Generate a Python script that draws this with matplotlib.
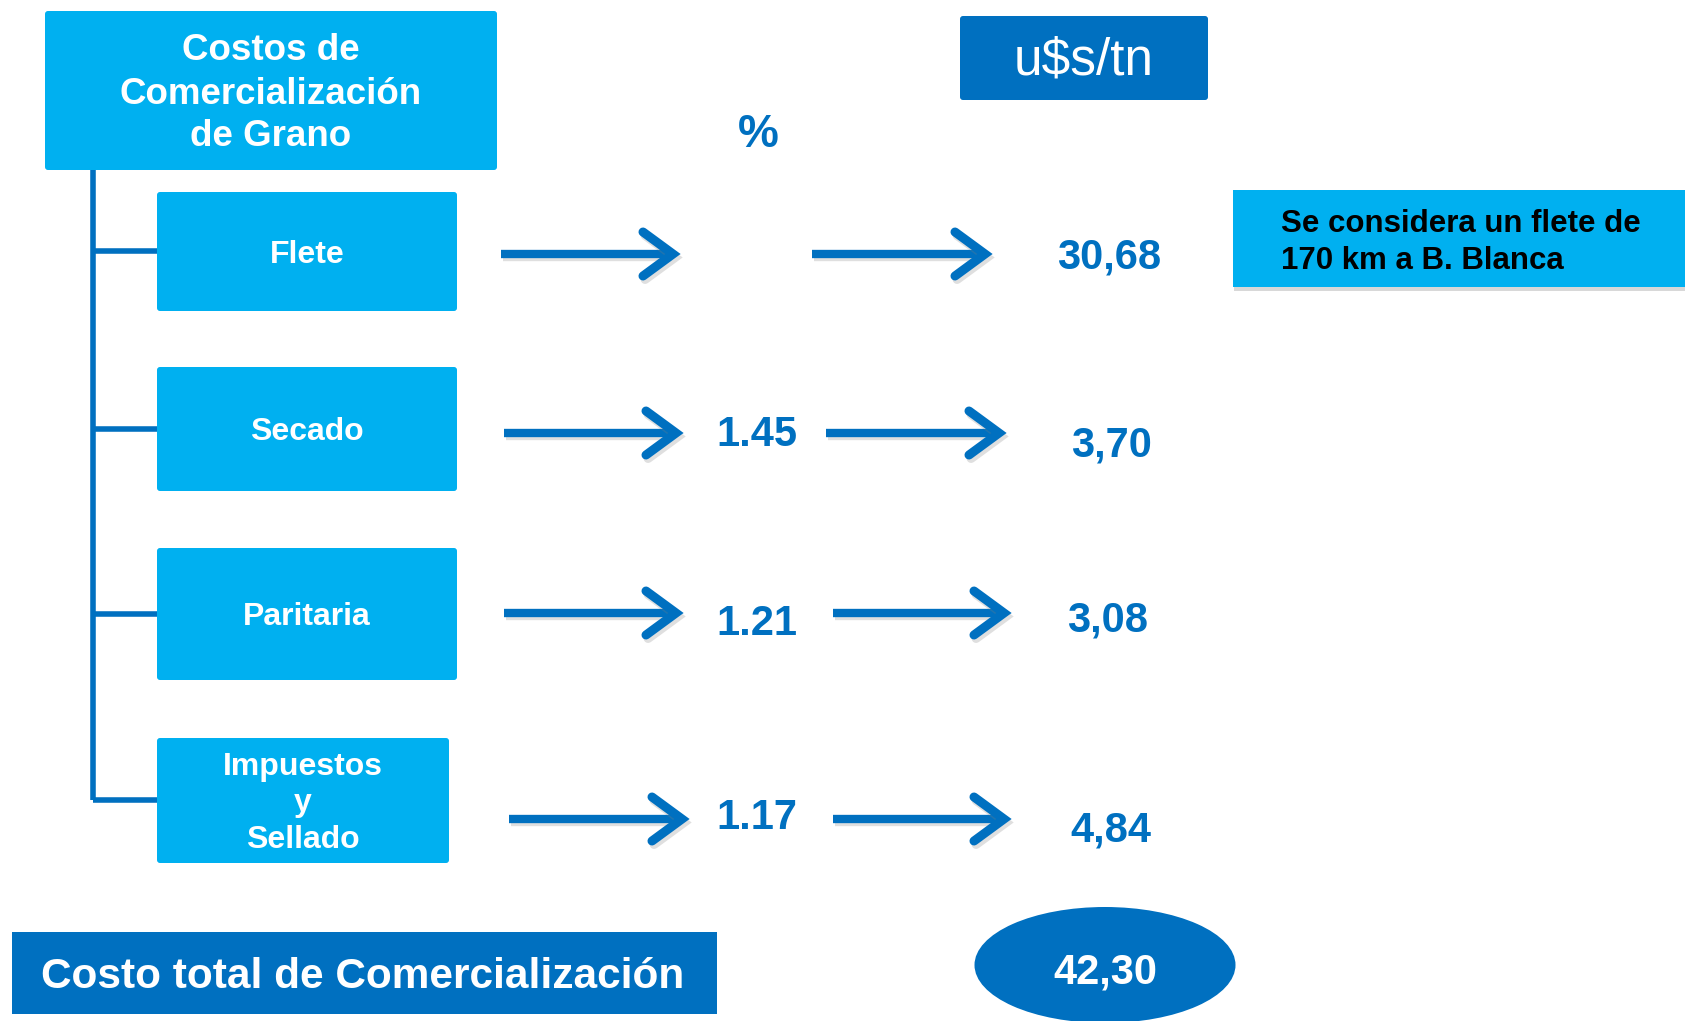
import matplotlib.pyplot as plt
from matplotlib.patches import FancyBboxPatch, Rectangle, Ellipse
import matplotlib.patheffects as pe

plt.rcParams['font.family'] = ['Liberation Sans', 'DejaVu Sans']

# data
title_lines = ["Costos de", "Comercialización", "de Grano"]
items = ["Flete", "Secado", "Paritaria", "Impuestos\ny\nSellado"]
pct = ["", "1.45", "1.21", "1.17"]
usd = ["30,68", "3,70", "3,08", "4,84"]
total_label = "Costo total de Comercialización"
total_value = "42,30"
unit_label = "u$s/tn"
pct_label = "%"
note = "Se considera un flete de\n170 km a B. Blanca"

LIGHT = "#00B0F0"
DARK = "#0070C0"

# layout (pixel coords)
box_y = [(192, 311), (367, 491), (548, 680), (738, 863)]
box_x = [(157, 457), (157, 457), (157, 457), (157, 449)]
conn_y = [251, 429, 614, 800]
row_y = [254, 433, 613, 819]
arr1 = [(501, 673), (504, 676), (504, 676), (509, 682)]
arr2 = [(812, 985), (826, 999), (833, 1004), (833, 1004)]
pct_y = [0, 435, 624, 818]
usd_xy = [(1109, 257), (1111, 445), (1108, 620), (1111, 830)]

fig = plt.figure(figsize=(16.85, 10.21), dpi=100)
ax = fig.add_axes([0, 0, 1, 1])
ax.set_xlim(0, 1685)
ax.set_ylim(1021, 0)
ax.axis('off')


def box(x0, y0, x1, y1, color):
    p = FancyBboxPatch((x0, y0), x1 - x0, y1 - y0,
                       boxstyle="round,pad=0,rounding_size=3",
                       fc=color, ec='none', zorder=2)
    ax.add_patch(p)


shadow_fx = [pe.SimpleLineShadow(offset=(1.5, -2.5), shadow_color='gray', alpha=0.25), pe.Normal()]


def arrow(x0, x1, y):
    ax.plot([x0, x1 - 5], [y, y], color=DARK, lw=6, solid_capstyle='butt',
            path_effects=shadow_fx, zorder=3)
    ax.plot([x1 - 30, x1, x1 - 30], [y - 22, y, y + 22], color=DARK, lw=6.5,
            solid_capstyle='round', solid_joinstyle='miter', path_effects=shadow_fx, zorder=3)


# header
box(45, 11, 497, 170, LIGHT)
for t, yy in zip(title_lines, [51, 94, 137]):
    ax.text(271, yy, t, color='white', fontsize=26.5, fontweight='bold',
            ha='center', va='center', zorder=4)

# tree lines
ax.plot([93, 93], [170, conn_y[-1]], color=DARK, lw=4, solid_capstyle='butt', zorder=1)
for cy in conn_y:
    ax.plot([93, 157], [cy, cy], color=DARK, lw=4, solid_capstyle='butt', zorder=1)

for i, name in enumerate(items):
    x0, x1 = box_x[i]
    y0, y1 = box_y[i]
    box(x0, y0, x1, y1, LIGHT)
    lines = name.split("\n")
    if len(lines) == 1:
        ax.text((x0 + x1) / 2, (y0 + y1) / 2 + 3, name, color='white', fontsize=23,
                fontweight='bold', ha='center', va='center', zorder=4)
    else:
        for t, yy in zip(lines, [767, 803, 840]):
            ax.text((x0 + x1) / 2, yy, t, color='white', fontsize=23,
                    fontweight='bold', ha='center', va='center', zorder=4)
    arrow(arr1[i][0], arr1[i][1], row_y[i])
    arrow(arr2[i][0], arr2[i][1], row_y[i])
    if pct[i]:
        ax.text(757, pct_y[i], pct[i], color=DARK, fontsize=30, fontweight='bold',
                ha='center', va='center', zorder=4)
    ax.text(usd_xy[i][0], usd_xy[i][1], usd[i], color=DARK, fontsize=30, fontweight='bold',
            ha='center', va='center', zorder=4)

# unit header and percent
box(960, 16, 1208, 100, DARK)
ax.text(1084, 61, unit_label, color='white', fontsize=37, ha='center', va='center', zorder=4)
ax.text(758, 135, pct_label, color=DARK, fontsize=33, fontweight='bold',
        ha='center', va='center', zorder=4)

# note
note_box = Rectangle((1233, 190), 460, 97, fc=LIGHT, ec='none', zorder=2)
note_box.set_path_effects([pe.SimplePatchShadow(offset=(1, -3), shadow_rgbFace='gray', alpha=0.3),
                           pe.Normal()])
ax.add_patch(note_box)
for t, yy in zip(note.split("\n"), [224, 261]):
    ax.text(1281, yy, t, color='black', fontsize=22.5, fontweight='bold',
            ha='left', va='center', zorder=4)

# total
ax.add_patch(Rectangle((12, 932), 705, 82, fc=DARK, ec='none', zorder=2))
ax.text(363, 977, total_label, color='white', fontsize=30.5, fontweight='bold',
        ha='center', va='center', zorder=4)
ax.add_patch(Ellipse((1105, 965), 261, 116, fc=DARK, ec='none', zorder=2))
ax.text(1105, 972, total_value, color='white', fontsize=30, fontweight='bold',
        ha='center', va='center', zorder=4)

fig.savefig("out.png", dpi=100)
